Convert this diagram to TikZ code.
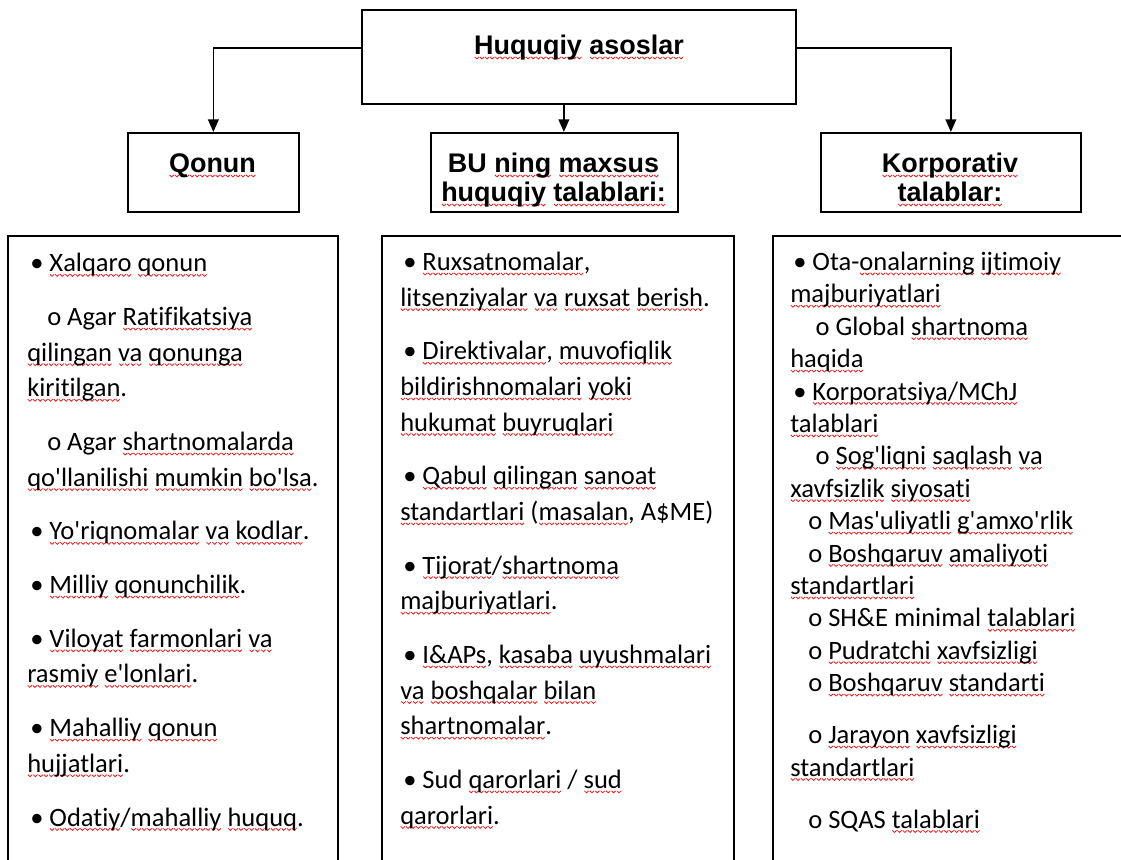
\documentclass[tikz,border=0pt]{standalone}
\usepackage{fontspec}
\setmainfont{Carlito}[Ligatures={TeXOff,NoCommon}]
\newfontfamily\headfont{Liberation Sans}[Ligatures={TeXOff,NoCommon}]
\usetikzlibrary{arrows.meta}
\definecolor{spellred}{RGB}{235,25,25}

% one period of the red wavy underline
\newsavebox\wavetile
\newsavebox\sqword
\AtBeginDocument{%
  \sbox\wavetile{\begin{pgfpicture}
    \pgfsetstrokecolor{spellred}
    \pgfsetlinewidth{0.6pt}
    \pgfpathmoveto{\pgfpoint{0pt}{0.75pt}}
    \pgfpathlineto{\pgfpoint{1.6pt}{-0.75pt}}
    \pgfpathlineto{\pgfpoint{3.2pt}{0.75pt}}
    \pgfusepath{stroke}
  \end{pgfpicture}}}

% word with a red wavy underline
\newcommand\sq[1]{\leavevmode\setbox\sqword\hbox{#1}%
  \rlap{\raisebox{-3.6pt}[0pt][0pt]{\hbox to\wd\sqword{\xleaders\copy\wavetile\hfil}}}\box\sqword}
\newcommand\bul{\hspace*{2.25pt}•\ }
\newcommand\subA{\hspace*{15pt}o\ }
\newcommand\subB{\hspace*{19pt}o\ }
\newcommand\subC{\hspace*{13.5pt}o\ }

\begin{document}
\begin{tikzpicture}[x=0.75pt,y=-0.75pt,
  frame/.style={draw=black,line width=1.3pt},
  hbox/.style={frame,rectangle,anchor=north west,inner sep=0pt,minimum height=59.25pt},
  conn/.style={line width=1.3pt,-{Triangle[length=9.5pt,width=8pt]}},
  head/.style={font=\headfont\bfseries\fontsize{20.2}{21.75}\selectfont,align=center,anchor=base,inner sep=0pt},
  body/.style={font=\fontsize{19.9}{26.7}\selectfont,align=left,anchor=base west,inner sep=0pt},
  bodytight/.style={body,font=\fontsize{19.9}{24.3}\selectfont},
  ]
\useasboundingbox (0,0) rectangle (1121,860);

% header boxes
\node[hbox,minimum width=325.5pt,minimum height=70.5pt] (root) at (361,9) {};
\node[hbox,minimum width=128.25pt] (law) at (127,132) {};
\node[hbox,minimum width=185.25pt] (bu) at (430,132) {};
\node[hbox,minimum width=195pt] (corp) at (820,132) {};

% titles (a node's base is the baseline of its last line)
\node[head] (rootT) at (579,54.5) {\sq{Huquqiy} \sq{asoslar}};
\node[head] (lawT) at (212.5,172.5) {\sq{Qonun}};
\node[head] (buT) at (553.5,201.5) {BU \sq{ning} \sq{maxsus}\\\sq{huquqiy} \sq{talablari:}};
\node[head] (corpT) at (950,201.5) {\sq{Korporativ}\\\sq{talablar:}};

% connectors
\draw[conn] ([yshift=6.75pt]root.west) -| (law.north);
\draw[conn] ([yshift=6.75pt]root.east) -| (corp.north);
\coordinate (mid) at ([xshift=-11.25pt]root.south);
\draw[conn] (mid) -- (mid |- bu.north);

% list boxes, running past the lower edge
\draw[frame] (8,880) -- (8,236) -- (338,236) -- (338,880);
\draw[frame] (382,880) -- (382,236) -- (734,236) -- (734,880);
\draw[frame] (773,880) -- (773,236) -- (1130,236);

\node[body] (lawL) at (27,826) {%
\bul\sq{Xalqaro} \sq{qonun}\\[13.6pt]
\subA Agar \sq{Ratifikatsiya}\\
\sq{qilingan} \sq{va} \sq{qonunga}\\
\sq{kiritilgan}.\\[13.6pt]
\subA Agar \sq{shartnomalarda}\\
\sq{qo'llanilishi} \sq{mumkin} \sq{bo'lsa}.\\[13.6pt]
\bul\sq{Yo'riqnomalar} \sq{va} \sq{kodlar}.\\[13.6pt]
\bul\sq{Milliy} \sq{qonunchilik}.\\[13.6pt]
\bul\sq{Viloyat} \sq{farmonlari} \sq{va}\\
\sq{rasmiy} \sq{e'lonlari}.\\[13.6pt]
\bul\sq{Mahalliy} \sq{qonun}\\
\sq{hujjatlari}.\\[13.6pt]
\bul\sq{Odatiy}/\sq{mahalliy} \sq{huquq}.};

\node[body] (buL) at (400,824) {%
\bul\sq{Ruxsatnomalar},\\
\sq{litsenziyalar} \sq{va} \sq{ruxsat} \sq{berish}.\\[13.6pt]
\bul\sq{Direktivalar}, \sq{muvofiqlik}\\
\sq{bildirishnomalari} \sq{yoki}\\
\sq{hukumat} \sq{buyruqlari}\\[13.6pt]
\bul\sq{Qabul} \sq{qilingan} \sq{sanoat}\\
\sq{standartlari} (\sq{masalan}, A\$ME)\\[13.6pt]
\bul\sq{Tijorat}/\sq{shartnoma}\\
\sq{majburiyatlari}.\\[13.6pt]
\bul\sq{I\&APs}, \sq{kasaba} \sq{uyushmalari}\\
\sq{va} \sq{boshqalar} \sq{bilan}\\
\sq{shartnomalar}.\\[13.6pt]
\bul Sud \sq{qarorlari} / \sq{sud}\\
\sq{qarorlari}.};

\node[bodytight] (corpL) at (790,828) {%
\bul Ota-\sq{onalarning} \sq{ijtimoiy}\\
\sq{majburiyatlari}\\
\subB Global \sq{shartnoma}\\
\sq{haqida}\\
\bul\sq{Korporatsiya/MChJ}\\
\sq{talablari}\\
\subB\sq{Sog'liqni} \sq{saqlash} \sq{va}\\
\sq{xavfsizlik} \sq{siyosati}\\
\subC\sq{Mas'uliyatli} \sq{g'amxo'rlik}\\
\subC\sq{Boshqaruv} \sq{amaliyoti}\\
\sq{standartlari}\\
\subC SH\&E minimal \sq{talablari}\\
\subC\sq{Pudratchi} \sq{xavfsizligi}\\
\subC\sq{Boshqaruv} \sq{standarti}\\[14.7pt]
\subC\sq{Jarayon} \sq{xavfsizligi}\\
\sq{standartlari}\\[14.7pt]
\subC SQAS \sq{talablari}};
\end{tikzpicture}
\end{document}
